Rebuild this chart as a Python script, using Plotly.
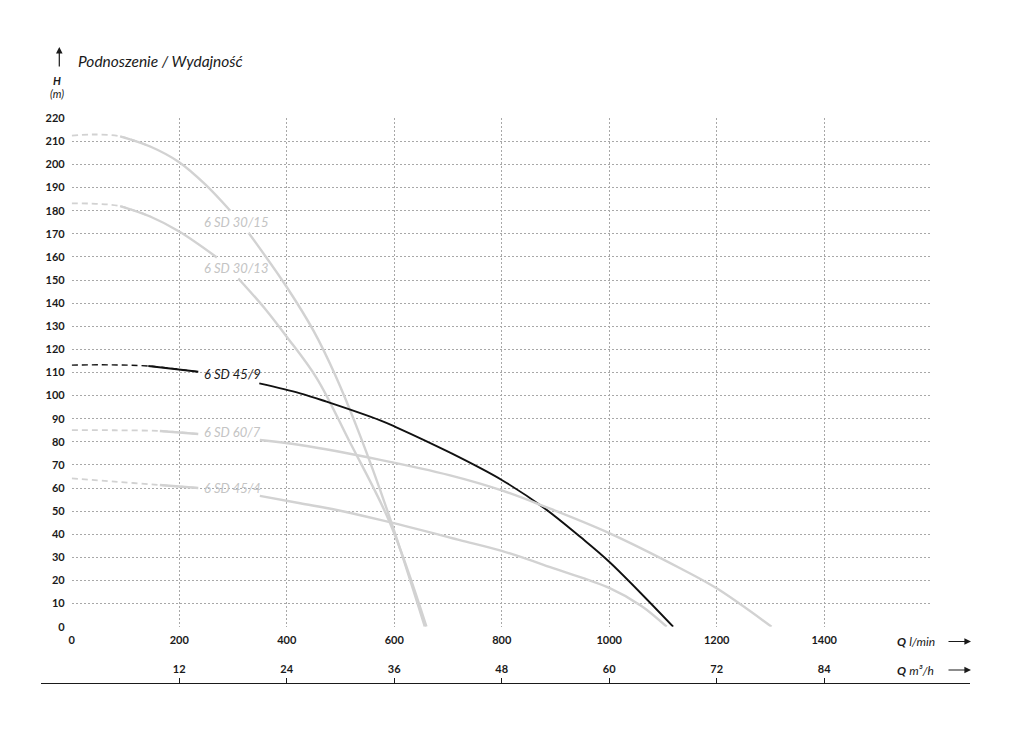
import plotly.graph_objects as go

# ---------------- data ----------------
q_30_15 = [0, 40, 90, 146, 200, 248, 295, 329, 400, 450, 490, 536, 592, 657]
h_30_15 = [212.5, 213, 212.2, 207.8, 201, 191.5, 180, 170.5, 147, 128, 109, 83, 47, 0]

q_30_13 = [0, 45, 90, 146, 200, 270, 310, 360, 400, 456, 515, 592, 660]
h_30_13 = [183.2, 183, 182, 177.5, 171, 159.8, 150.7, 137.5, 125.5, 107.5, 81, 45, 0]

q_45_9 = [0, 70, 142.5, 235.5, 349, 425, 474, 574, 602, 704, 800, 880, 946, 1000, 1119]
h_45_9 = [113.2, 113.3, 112.8, 110.3, 105.3, 101, 97.4, 89.3, 86.5, 75.3, 63.5, 51.2, 38.9, 28.1, 0]

q_60_7 = [0, 80, 164, 235.5, 350, 425, 574, 704, 800, 880, 1000, 1132, 1200, 1302]
h_60_7 = [85.1, 85.0, 84.7, 83.4, 80.8, 78.6, 72.2, 65.5, 59.0, 52.0, 40.5, 25.3, 16.6, 0]

q_45_4 = [0, 80, 164, 235.5, 350, 425, 493, 574, 722, 800, 900, 1000, 1060, 1107]
h_45_4 = [64.2, 62.8, 61.3, 60.0, 56.6, 53.4, 50.5, 46.2, 37.5, 32.8, 25.0, 16.8, 9.0, 0]

curve_names = ["6 SD 30/15", "6 SD 30/13", "6 SD 45/9", "6 SD 60/7", "6 SD 45/4"]

x_ticks = [0, 200, 400, 600, 800, 1000, 1200, 1400, 1600]
x_tick_text = ["0", "200", "400", "600", "800", "1000", "1200", "1400", ""]
y_ticks = list(range(0, 221, 10))
m3h_ticks = [12, 24, 36, 48, 60, 72, 84]

# ---------------- style / layout ----------------
W, H = 1024, 732
OFF = 8  # page body margin
ML, MR, MT, MB = 32, 50, 110, 48
PW, PH = W - ML - MR, H - MT - MB
PLOT_L, PLOT_R, PLOT_T, PLOT_B = 71.7, 931.7, 118.3, 626.7
AX2_L, AX2_R, AX2_Y = 41, 970, 684

def fx(px):
    return (px - OFF - ML) / PW

def fy(py):
    return (H - MB - (py - OFF)) / PH

GREY = "#d2d2d2"
BLACK = "#111111"
FONT = "Lato"
SMOOTH = 1.0

# (q, h, color, width, dash_end_index, gap_start_index, gap_end_index, label y)
curves = [
    (q_30_15, h_30_15, GREY, 2.4, 2, 6, 7, 175.2),
    (q_30_13, h_30_13, GREY, 2.4, 2, 5, 6, 155.3),
    (q_45_9, h_45_9, BLACK, 1.9, 2, 3, 4, 109.3),
    (q_60_7, h_60_7, GREY, 2.4, 2, 3, 4, 84.4),
    (q_45_4, h_45_4, GREY, 2.4, 2, 3, 4, 59.9),
]

fig = go.Figure()
annotations = []
for name, (q, h, col, lw, de, g1, g2, ly) in zip(curve_names, curves):
    fig.add_trace(go.Scatter(
        x=q[:de + 2], y=h[:de + 2], mode="lines",
        line=dict(color=col, width=lw * 0.75, dash="6px,4px", shape="spline", smoothing=SMOOTH),
        hoverinfo="skip", showlegend=False))
    xs = q[de:g1 + 1] + [None] + q[g2:]
    ys = h[de:g1 + 1] + [None] + h[g2:]
    fig.add_trace(go.Scatter(
        x=xs, y=ys, mode="lines", connectgaps=False,
        line=dict(color=col, width=lw, shape="spline", smoothing=SMOOTH),
        hoverinfo="skip", showlegend=False))
    annotations.append(dict(
        x=243, y=ly, xref="x", yref="y", text=name, showarrow=False,
        xanchor="left", yanchor="middle",
        font=dict(family=FONT, size=13, style="italic",
                  color=("#1a1a1a" if col == BLACK else "#c4c4c4"))))

# invisible trace to activate the second (m3/h) axis
fig.add_trace(go.Scatter(x=[m3h_ticks[0]], y=[0.5], xaxis="x2", yaxis="y2",
                         mode="markers", marker=dict(opacity=0), hoverinfo="skip",
                         showlegend=False))

px_per_lmin = (PLOT_R - PLOT_L) / 1600.0
px_per_m3h = px_per_lmin * 1000.0 / 60.0
x2_range = [(AX2_L - PLOT_L) / px_per_m3h, (AX2_R - PLOT_L) / px_per_m3h]

# header texts
annotations += [
    dict(x=fx(76), y=fy(61), xref="paper", yref="paper", text="Podnoszenie / Wydajność",
         showarrow=False, xanchor="left", yanchor="middle",
         font=dict(family=FONT, size=15.5, style="italic", color="#1a1a1a")),
    dict(x=fx(57), y=fy(80.5), xref="paper", yref="paper", text="<b><i>H</i></b>",
         showarrow=False, xanchor="center", yanchor="middle",
         font=dict(family=FONT, size=11, color="#1a1a1a")),
    dict(x=fx(57), y=fy(93.5), xref="paper", yref="paper", text="<i>(m)</i>",
         showarrow=False, xanchor="center", yanchor="middle",
         font=dict(family=FONT, size=11, color="#1a1a1a")),
    dict(x=fx(59.3), y=fy(47), xref="paper", yref="paper", text="", showarrow=True,
         ax=0, ay=21, arrowhead=2, arrowsize=1.1, arrowwidth=1.2, arrowcolor="#1a1a1a"),
    dict(x=fx(895), y=fy(641.5), xref="paper", yref="paper",
         text="<b><i>Q</i></b> <i>l/min</i>", showarrow=False, xanchor="left",
         yanchor="middle", font=dict(family=FONT, size=12, color="#1a1a1a")),
    dict(x=fx(895), y=fy(670), xref="paper", yref="paper",
         text="<b><i>Q</i></b> <i>m³/h</i>", showarrow=False, xanchor="left",
         yanchor="middle", font=dict(family=FONT, size=12, color="#1a1a1a")),
    dict(x=fx(971), y=fy(641.5), xref="paper", yref="paper", text="", showarrow=True,
         ax=-24, ay=0, arrowhead=2, arrowsize=1.1, arrowwidth=1.2, arrowcolor="#1a1a1a"),
    dict(x=fx(971), y=fy(670), xref="paper", yref="paper", text="", showarrow=True,
         ax=-24, ay=0, arrowhead=2, arrowsize=1.1, arrowwidth=1.2, arrowcolor="#1a1a1a"),
]

grid = dict(showgrid=True, gridcolor="#a8a8a8", gridwidth=1, griddash="2px,2px",
            zeroline=False, showline=False, ticks="")

fig.update_layout(
    width=W, height=H, autosize=False,
    margin=dict(l=ML, r=MR, t=MT, b=MB, pad=0),
    paper_bgcolor="white", plot_bgcolor="white",
    showlegend=False,
    xaxis=dict(domain=[fx(PLOT_L), fx(PLOT_R)], range=[0, 1600],
               tickvals=x_ticks, ticktext=x_tick_text, automargin=False,
               tickfont=dict(family=FONT, size=11, weight="bold", color="#1a1a1a"),
               ticklabelstandoff=5, fixedrange=True, **grid),
    yaxis=dict(domain=[fy(PLOT_B), fy(PLOT_T)], range=[0, 220], tickvals=y_ticks,
               automargin=False,
               tickfont=dict(family=FONT, size=11, weight="bold", color="#1a1a1a"),
               ticklabelstandoff=6, fixedrange=True, **grid),
    xaxis2=dict(domain=[fx(AX2_L), fx(AX2_R)], range=x2_range, anchor="y2", side="top",
                tickvals=m3h_ticks, showgrid=False, zeroline=False, showline=True,
                linecolor="#1a1a1a", linewidth=1.3, ticks="outside", ticklen=5,
                tickwidth=1, tickcolor="#1a1a1a", automargin=False,
                tickfont=dict(family=FONT, size=11, weight="bold", color="#1a1a1a"),
                fixedrange=True),
    yaxis2=dict(domain=[0, fy(AX2_Y)], range=[0, 1], visible=False, fixedrange=True),
    annotations=annotations,
)

fig.write_html("out.html")
